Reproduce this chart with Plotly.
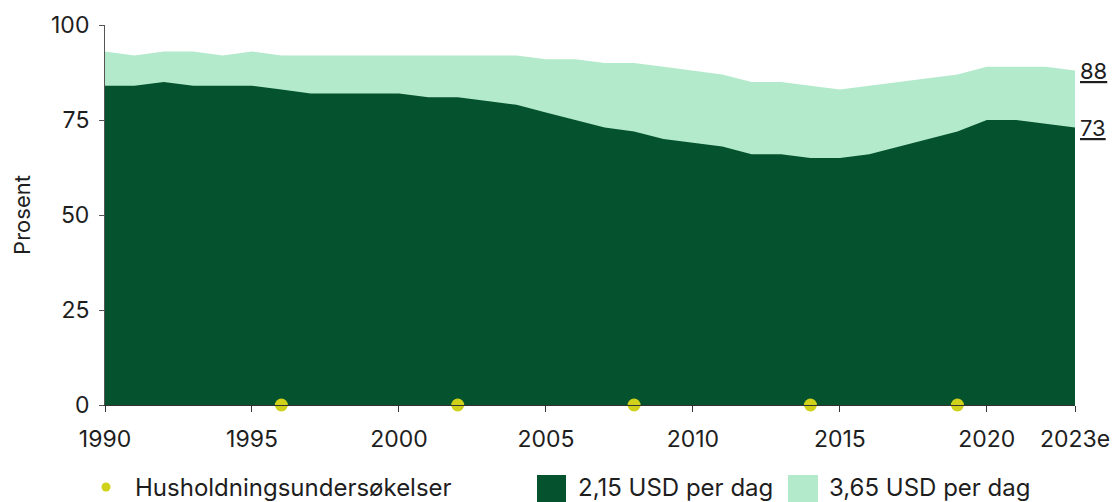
import plotly.graph_objects as go

years = list(range(1990, 2024))
usd_215 = [84, 84, 85, 84, 84, 84, 83, 82, 82, 82, 82, 81, 81, 80, 79, 77, 75, 73, 72, 70,
           69, 68, 66, 66, 65, 65, 66, 68, 70, 72, 75, 75, 74, 73]
usd_365 = [93, 92, 93, 93, 92, 93, 92, 92, 92, 92, 92, 92, 92, 92, 92, 91, 91, 90, 90, 89,
           88, 87, 85, 85, 84, 83, 84, 85, 86, 87, 89, 89, 89, 88]
survey_years = [1996, 2002, 2008, 2014, 2019]
survey_vals = [0, 0, 0, 0, 0]
tick_vals = [1990, 1995, 2000, 2005, 2010, 2015, 2020, 2023]
tick_text = ["1990", "1995", "2000", "2005", "2010", "2015", "2020", "2023e"]
y_ticks = [0, 25, 50, 75, 100]

DARK = "#04532e"
LIGHT = "#b3eacb"
YEL = "#cfd11b"
TXT = "#1e1e1e"
FONT = "Inter"

FW, FH = 1114, 502
ML, MR, MT, MB = 105, 39, 25, 97

fig = go.Figure()
fig.add_trace(go.Scatter(x=years, y=usd_365, mode="lines", line=dict(width=0, color=LIGHT),
                         fill="tozeroy", fillcolor=LIGHT, name="3,65 USD per dag", showlegend=False))
fig.add_trace(go.Scatter(x=years, y=usd_215, mode="lines", line=dict(width=0, color=DARK),
                         fill="tozeroy", fillcolor=DARK, name="2,15 USD per dag", showlegend=False))
fig.add_trace(go.Scatter(x=survey_years, y=survey_vals, mode="markers",
                         marker=dict(color=YEL, size=13, symbol="circle"),
                         cliponaxis=False, name="Husholdningsundersøkelser", showlegend=False))

# end labels
for v in (usd_365[-1], usd_215[-1]):
    fig.add_annotation(x=years[-1], y=v, text="<u>%d</u>" % v, xanchor="left",
                       yanchor="middle", xshift=3, showarrow=False,
                       font=dict(size=22, color=TXT, family=FONT))

# manual legend (paper coords derived from page pixel layout)
L, T, W, H = ML, MT, FW - ML - MR, FH - MT - MB
def px(x):
    return (x - L) / W
def py(y):
    return (T + H - y) / H

fig.add_shape(type="circle", xref="paper", yref="paper", x0=px(101.5), x1=px(110.5), y0=py(491.5), y1=py(482.5),
              fillcolor=YEL, line=dict(width=0))
fig.add_annotation(xref="paper", yref="paper", x=px(133), y=py(488), text="Husholdningsundersøkelser",
                   xanchor="left", yanchor="middle", showarrow=False, font=dict(size=24, color=TXT, family=FONT))
fig.add_shape(type="rect", xref="paper", yref="paper", x0=px(537), x1=px(566), y0=py(506), y1=py(475),
              fillcolor=DARK, line=dict(width=0))
fig.add_annotation(xref="paper", yref="paper", x=px(576), y=py(488), text="2,15 USD per dag",
                   xanchor="left", yanchor="middle", showarrow=False, font=dict(size=24, color=TXT, family=FONT))
fig.add_shape(type="rect", xref="paper", yref="paper", x0=px(788), x1=px(818), y0=py(506), y1=py(475),
              fillcolor=LIGHT, line=dict(width=0))
fig.add_annotation(xref="paper", yref="paper", x=px(827), y=py(488), text="3,65 USD per dag",
                   xanchor="left", yanchor="middle", showarrow=False, font=dict(size=24, color=TXT, family=FONT))

fig.update_layout(
    width=FW, height=FH,
    margin=dict(l=ML, r=MR, t=MT, b=MB, pad=0),
    paper_bgcolor="white", plot_bgcolor="white",
    font=dict(family=FONT, size=23, color=TXT),
    showlegend=False,
    xaxis=dict(range=[1990, 2023], tickvals=tick_vals, ticktext=tick_text, showgrid=False, zeroline=False,
               showline=True, linecolor="#333333", linewidth=1, ticks="outside", ticklen=6,
               tickcolor="#333333", ticklabelstandoff=7, tickfont=dict(size=23), automargin=False),
    yaxis=dict(range=[0, 100], tickvals=y_ticks, showgrid=False, zeroline=False,
               showline=True, linecolor="#555555", linewidth=1, ticks="outside", ticklen=5,
               tickcolor="#555555", ticklabelstandoff=5, tickfont=dict(size=23), automargin=False,
               title=dict(text="Prosent", font=dict(size=22), standoff=14)),
)

fig.write_html("out.html", config={"displayModeBar": False},
               post_script="document.body.style.margin='0';document.body.style.overflow='hidden';")
